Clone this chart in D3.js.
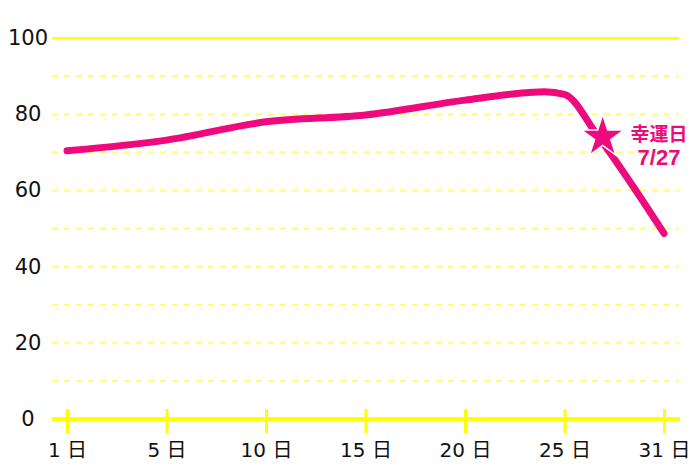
<!DOCTYPE html>
<html>
<head>
<meta charset="utf-8">
<script src="https://cdn.jsdelivr.net/npm/d3@7"></script>
<style>
  body { margin: 0; background: #fff; }
  svg { display: block; }
</style>
</head>
<body>
<script>
// chart data
var tickDays = [1, 5, 10, 15, 20, 25, 31];
var tickLabels = ["1 日", "5 日", "10 日", "15 日", "20 日", "25 日", "31 日"];
var yTicks = [0, 20, 40, 60, 80, 100];
var gridValues = [10, 20, 30, 40, 50, 60, 70, 80, 90];
var lineDays = [1, 5, 10, 15, 20, 23, 24, 25, 27, 31];
var lineValues = [70.4, 73.2, 78, 79.8, 83.7, 85.6, 85.9, 85.2, 74.3, 48.7];
var luckyDay = 27;
var luckyLabel = ["幸運日", "7/27"];

var svgWidth = 700;
var svgHeight = 467;
var pink = "#ee0a7d";
var font = "'DejaVu Sans', 'Noto Sans CJK JP', sans-serif";

var svg = d3.select("body")
  .append("svg")
  .attr("width", svgWidth)
  .attr("height", svgHeight);

// evenly spaced tick positions for uneven days
var tickX = d3.scalePoint()
  .domain(tickDays)
  .range([67, 664]);

var x = d3.scaleLinear()
  .domain(tickDays)
  .range(tickDays.map(d => tickX(d)));

var y = d3.scaleLinear()
  .domain([0, 100])
  .range([419, 38]);

// dashed grid
svg.append("g")
  .selectAll("line")
  .data(gridValues)
  .enter()
  .append("line")
  .attr("x1", 52)
  .attr("x2", 679)
  .attr("y1", d => y(d))
  .attr("y2", d => y(d))
  .attr("stroke", "#ffff70")
  .attr("stroke-width", 2)
  .attr("stroke-dasharray", "6,6");

// top line
svg.append("line")
  .attr("x1", 52)
  .attr("x2", 679)
  .attr("y1", y(100))
  .attr("y2", y(100))
  .attr("stroke", "#ffff00")
  .attr("stroke-width", 2);

// y labels
svg.append("g")
  .selectAll("text")
  .data(yTicks)
  .enter()
  .append("text")
  .attr("x", 28)
  .attr("y", d => y(d) + 7)
  .attr("text-anchor", "middle")
  .attr("font-family", font)
  .attr("font-size", "21px")
  .attr("fill", "#111")
  .text(d => d);

// x axis
var xAxis = d3.axisBottom(tickX)
  .tickSize(0)
  .tickFormat((d, i) => tickLabels[i]);

var axisG = svg.append("g")
  .attr("transform", `translate(0, ${y(0)})`)
  .call(xAxis);

axisG.select(".domain").remove();

axisG.append("line")
  .attr("x1", 52)
  .attr("x2", 680)
  .attr("stroke", "#ffff00")
  .attr("stroke-width", 4);

axisG.selectAll(".tick")
  .append("line")
  .attr("y1", -10)
  .attr("y2", 14)
  .attr("stroke", "#ffff00")
  .attr("stroke-width", 3);

axisG.selectAll(".tick text")
  .attr("y", 38)
  .attr("dy", null)
  .attr("font-family", font)
  .attr("font-size", "20px")
  .attr("fill", "#111");

// line
var lineData = lineDays.map((d, i) => ({ day: d, value: lineValues[i] }));

var line = d3.line()
  .x(d => x(d.day))
  .y(d => y(d.value))
  .curve(d3.curveMonotoneX);

svg.append("path")
  .datum(lineData)
  .attr("d", line)
  .attr("fill", "none")
  .attr("stroke", pink)
  .attr("stroke-width", 7)
  .attr("stroke-linecap", "round")
  .attr("stroke-linejoin", "round");

// star on lucky day
var lucky = lineData.find(d => d.day === luckyDay);

svg.append("path")
  .attr("d", d3.symbol(d3.symbolStar, 560)())
  .attr("transform", `translate(${x(lucky.day) + 5}, ${y(lucky.value) + 1})`)
  .attr("fill", pink)
  .attr("stroke", "#fff")
  .attr("stroke-width", 1.5);

svg.append("g")
  .selectAll("text")
  .data(luckyLabel)
  .enter()
  .append("text")
  .attr("x", 659)
  .attr("y", (d, i) => 141 + i * 24)
  .attr("text-anchor", "middle")
  .attr("font-family", "'Liberation Sans', 'Noto Sans CJK JP', sans-serif")
  .attr("font-weight", "bold")
  .attr("font-size", (d, i) => i === 0 ? "19px" : "22px")
  .attr("fill", pink)
  .text(d => d);
</script>
</body>
</html>
